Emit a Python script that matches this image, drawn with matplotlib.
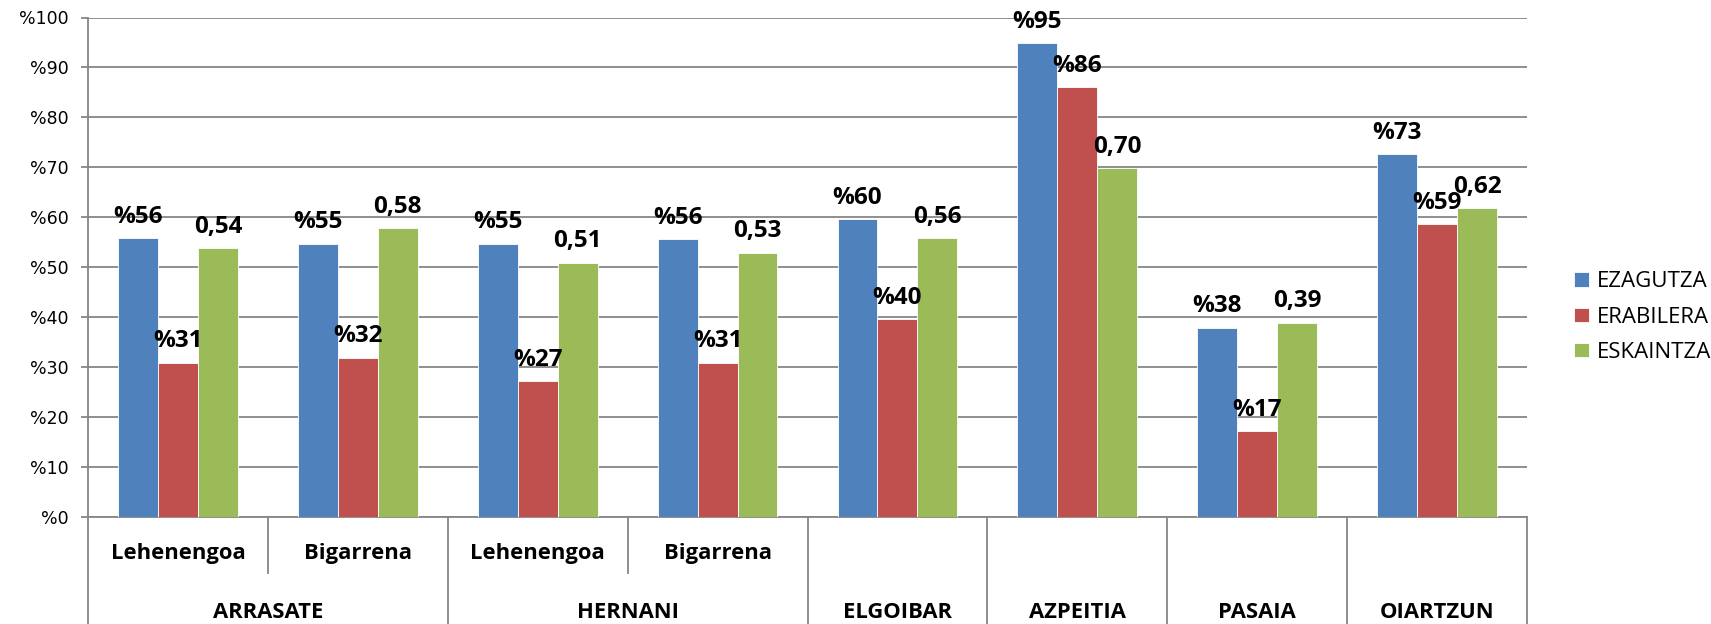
import matplotlib.pyplot as plt
from matplotlib.transforms import blended_transform_factory
import numpy as np

# data
groups = ["ARRASATE", "HERNANI", "ELGOIBAR", "AZPEITIA", "PASAIA", "OIARTZUN"]
group_sizes = [2, 2, 1, 1, 1, 1]
sublabels = ["Lehenengoa", "Bigarrena", "Lehenengoa", "Bigarrena", "", "", "", ""]

ezagutza = [55.9, 54.7, 54.7, 55.7, 59.7, 94.8, 37.9, 72.7]
erabilera = [30.9, 31.9, 27.2, 30.9, 39.6, 86.0, 17.2, 58.7]
eskaintza = [0.538, 0.578, 0.509, 0.529, 0.559, 0.699, 0.389, 0.619]

series_names = ["EZAGUTZA", "ERABILERA", "ESKAINTZA"]
colors = ["#4F81BD", "#C0504D", "#9BBB59"]
yticks = [0, 10, 20, 30, 40, 50, 60, 70, 80, 90, 100]
ytick_labels = ["%" + str(t) for t in yticks]

W, H = 1711, 624
fig = plt.figure(figsize=(W / 100, H / 100), dpi=100)
ax = fig.add_axes([88 / W, 1 - 517 / H, (1527 - 88) / W, (517 - 17.5) / H])

x = np.arange(len(sublabels))
bw = 0.222
heights = [ezagutza, erabilera, [v * 100 for v in eskaintza]]
texts = [["%" + f"{v:.0f}" for v in ezagutza],
         ["%" + f"{v:.0f}" for v in erabilera],
         [f"{v:.2f}".replace(".", ",") for v in eskaintza]]

for i in range(3):
    bars = ax.bar(x + (i - 1) * bw, heights[i], bw, color=colors[i],
                  edgecolor="white", linewidth=0.6, label=series_names[i], zorder=3)
    for b, t in zip(bars, texts[i]):
        ax.annotate(t, (b.get_x() + b.get_width() / 2, b.get_height()),
                    xytext=(0, 11), textcoords="offset points", ha="center",
                    va="baseline", fontsize=17.5, fontweight="bold",
                    family="Open Sans", zorder=5)

ax.set_xlim(-0.5, len(sublabels) - 0.5)
ax.set_ylim(0, 100)
ax.set_yticks(yticks)
ax.set_yticklabels(ytick_labels, fontsize=12.5, family="DejaVu Sans")
ax.tick_params(axis="y", length=5, width=1.3, color="#868686", pad=9)
ax.set_xticks([])
ax.grid(axis="y", color="#868686", linewidth=1.3, zorder=0)
ax.set_axisbelow(True)
for s in ["top", "right"]:
    ax.spines[s].set_visible(False)
for s in ["left", "bottom"]:
    ax.spines[s].set_color("#868686")
    ax.spines[s].set_linewidth(1.3)

# multi-level category axis below the plot
tr = blended_transform_factory(ax.transData, fig.transFigure)
line_kw = dict(color="#868686", linewidth=1.3, transform=tr, clip_on=False)
y_axis = 1 - 517 / H
y_mid = 1 - 573 / H

for xi, lab in enumerate(sublabels):
    if lab:
        ax.text(xi, 1 - 554 / H, lab, transform=tr, ha="center", va="center",
                fontsize=15.8, fontweight="bold", family="Open Sans")

start = 0
bounds = [-0.5]
for g, n in zip(groups, group_sizes):
    center = start + (n - 1) / 2
    ax.text(center, 1 - 612 / H, g, transform=tr, ha="center", va="center",
            fontsize=15.8, fontweight="bold", family="Open Sans")
    if n > 1:
        for k in range(1, n):
            ax.plot([start + k - 0.5] * 2, [y_axis, y_mid], **line_kw)
    start += n
    bounds.append(start - 0.5)
for b in bounds:
    ax.plot([b, b], [y_axis, 0], **line_kw)

fig.legend(loc="center left", bbox_to_anchor=(1563 / W, 1 - 317 / H),
           frameon=False, borderpad=0, handlelength=0.68, handleheight=0.6,
           handletextpad=0.36, labelspacing=0.64,
           prop={"family": "Open Sans", "size": 16})

fig.savefig("out.png", dpi=100, facecolor="white")
